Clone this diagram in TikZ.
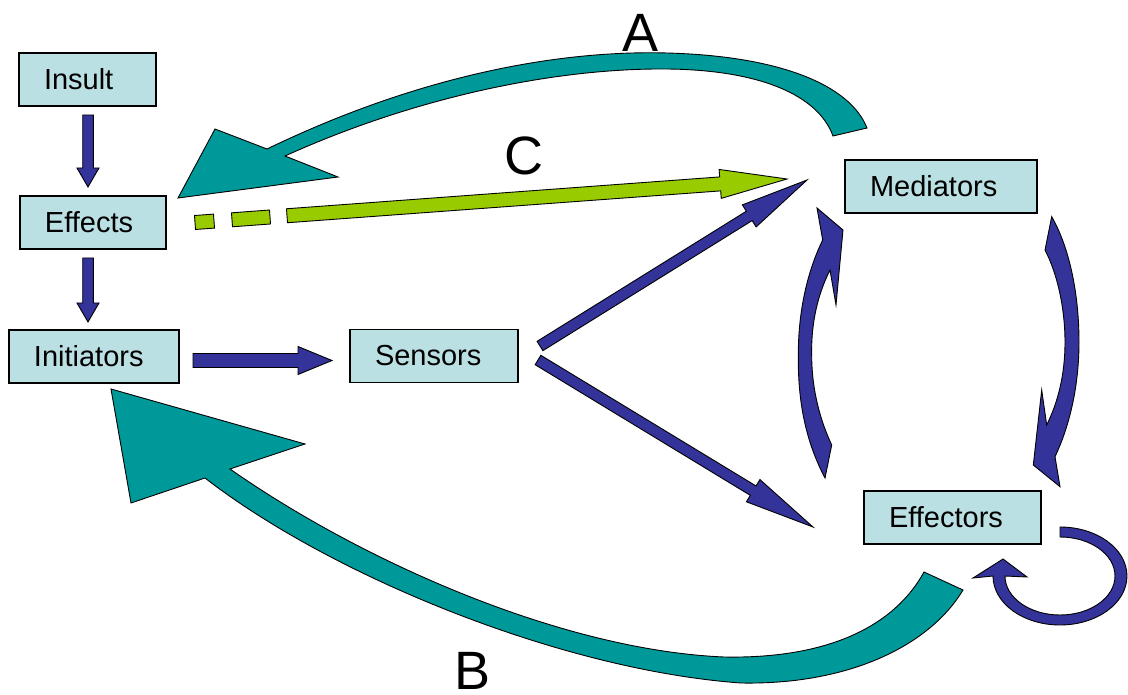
\documentclass[tikz,border=0pt]{standalone}
\usepackage{fontspec}
\setmainfont{Liberation Sans}
\usetikzlibrary{calc}
\definecolor{boxfill}{HTML}{BBE0E3}
\definecolor{navy}{HTML}{333399}
\definecolor{tealc}{HTML}{009999}
\definecolor{limec}{HTML}{99CC00}
% block arrow: style, from, to, half shaft, half head, head length
\newcommand{\blockarrow}[6]{%
  \coordinate (ba-h) at ($(#3)!#6!(#2)$);
  \path[#1] ($(#2)!#4!90:(#3)$) -- ($(ba-h)!#4!90:(#3)$) -- ($(ba-h)!#5!90:(#3)$) -- (#3)
     -- ($(ba-h)!#5!-90:(#3)$) -- ($(ba-h)!#4!-90:(#3)$) -- ($(#2)!#4!-90:(#3)$) -- cycle;
}
% plain bar: style, from, to, half width
\newcommand{\dashbar}[4]{%
  \path[#1] ($(#2)!#4!90:(#3)$) -- ($(#3)!#4!-90:(#2)$) -- ($(#3)!#4!90:(#2)$) -- ($(#2)!#4!-90:(#3)$) -- cycle;
}
\tikzset{
  box/.style={draw=black, line width=1.4pt, fill=boxfill, minimum height=53pt,
    inner xsep=25pt, inner ysep=0pt, align=left, font=\fontsize{29}{34}\selectfont},
  navyarrow/.style={fill=navy, draw=black, line width=0.9pt},
  tealarrow/.style={fill=tealc, draw=black, line width=0.9pt},
  limearrow/.style={fill=limec, draw=black, line width=0.9pt},
  letter/.style={font=\fontsize{54}{60}\selectfont, inner sep=0pt}
}
\begin{document}
\begin{tikzpicture}[x=1pt, y=-1pt]
\useasboundingbox (0,0) rectangle (1128,695);

% boxes
\node[box, text width=87pt]  (insult)     at (87.5,79.5)  {Insult};
\node[box, text width=96pt]  (effects)    at (93,222.5)   {Effects};
\node[box, text width=120pt] (initiators) at (94,356.5)   {Initiators};
\node[box, text width=118pt] (sensors)    at (434,356)    {Sensors};
\node[box, text width=142pt] (mediators)  at (941,186.5)  {Mediators};
\node[box, text width=127pt] (effectors)  at (952.5,517.5){Effectors};

% connector ends
\coordinate (ie-s) at (88,115);   \coordinate (ie-e) at (88,187);
\coordinate (ei-s) at (88,258);   \coordinate (ei-e) at (88,322);
\coordinate (is-s) at (193,360.5);\coordinate (is-e) at (332,360.5);
\coordinate (sm-s) at (540,346);  \coordinate (sm-e) at (807,180);
\coordinate (se-s) at (538,360);  \coordinate (se-e) at (813,527);
\coordinate (c-s) at (287,215.75);\coordinate (c-e) at (787,179);
\coordinate (d1a) at (195,222.5); \coordinate (d1b) at (214,221.1);
\coordinate (d2a) at (232,219.8); \coordinate (d2b) at (270,217);

% straight navy arrows
\blockarrow{navyarrow}{ie-s}{ie-e}{5.3pt}{11pt}{19pt}
\blockarrow{navyarrow}{ei-s}{ei-e}{5.3pt}{11pt}{19pt}
\blockarrow{navyarrow}{is-s}{is-e}{7pt}{14pt}{34pt}
\blockarrow{navyarrow}{sm-s}{sm-e}{5.5pt}{13pt}{68pt}
\blockarrow{navyarrow}{se-s}{se-e}{5.5pt}{13pt}{70pt}

% green arrow C
\dashbar{limearrow}{d1a}{d1b}{7pt}
\dashbar{limearrow}{d2a}{d2b}{7pt}
\blockarrow{limearrow}{c-s}{c-e}{7pt}{14.5pt}{67pt}

% curved arrow Effectors -> Mediators (left, up)
\path[navyarrow] (817,208) -- (843,230) -- (836,305) -- (830,270)
  .. controls (815,300) and (811,330) .. (811.7,357)
  .. controls (812,390) and (820,420) .. (831.7,445)
  -- (825,478)
  .. controls (805,440) and (798,400) .. (798.3,357)
  .. controls (798,310) and (808,270) .. (822.7,240) -- cycle;

% curved arrow Mediators -> Effectors (right, down)
\path[navyarrow] (1045,250)
  .. controls (1058,275) and (1065,310) .. (1065,342)
  .. controls (1065,375) and (1058,402) .. (1046.7,425)
  -- (1041.7,390) -- (1033.3,465) -- (1060,486.7) -- (1055,456.7)
  .. controls (1070,425) and (1079,385) .. (1079,342)
  .. controls (1079,290) and (1068,245) .. (1051.7,216.7) -- cycle;

% self loop on Effectors
\path[navyarrow] (1060,527) arc[start angle=-90, end angle=180, x radius=67, y radius=49]
  -- (973,578) -- (1003,559) -- (1027,577) -- (1005,576)
  arc[start angle=180, end angle=-90, x radius=55, y radius=39] -- cycle;

% teal arrow A
\path[tealarrow] (867,128)
  .. controls (850,85) and (780,56) .. (667,53)
  .. controls (560,50) and (420,75) .. (267,149)
  -- (215,129) -- (178,198) -- (338,177) -- (285,156)
  .. controls (420,95) and (560,68) .. (667,69)
  .. controls (760,70) and (818,95) .. (833,136) -- cycle;

% teal arrow B
\path[tealarrow] (963,590)
  .. controls (930,645) and (850,685) .. (741,683)
  .. controls (560,670) and (330,575) .. (205,478)
  -- (131,503) -- (111,389) -- (305,444) -- (230,469)
  .. controls (360,560) and (560,650) .. (724,657)
  .. controls (830,659) and (895,625) .. (924,572) -- cycle;

% labels
\node[letter] (la) at (641,33)  {A};
\node[letter] (lc) at (524,156) {C};
\node[letter] (lb) at (473,671) {B};
\end{tikzpicture}
\end{document}
